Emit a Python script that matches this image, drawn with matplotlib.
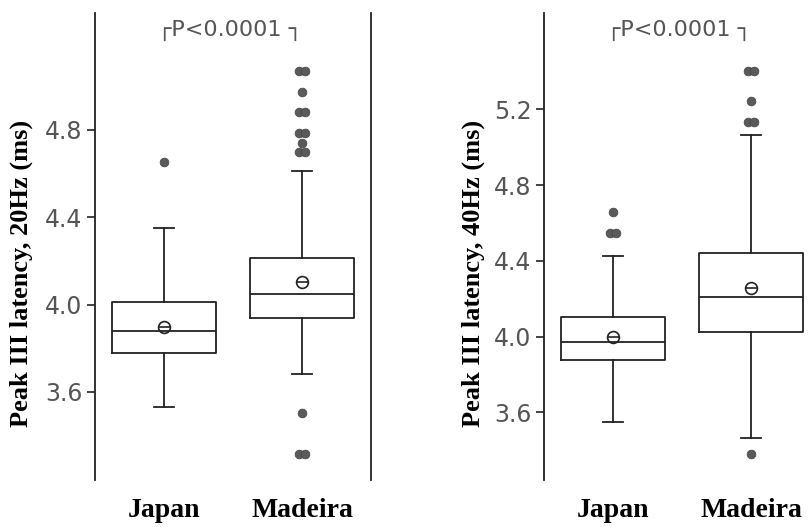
import matplotlib
matplotlib.use("Agg")
import matplotlib.pyplot as plt
from matplotlib import font_manager

# ---------------- data ----------------
groups = ["Japan", "Madeira"]

# 20 Hz panel
j20_stats = dict(whislo=3.529, q1=3.777, med=3.881, q3=4.010, whishi=4.350, mean=3.896)
m20_stats = dict(whislo=3.681, q1=3.937, med=4.049, q3=4.214, whishi=4.614, mean=4.105)
j20_fliers = [4.652]
m20_fliers = [5.07, 5.07, 4.974, 4.882, 4.882, 4.788, 4.788, 4.742, 4.70, 4.70,
              3.501, 3.315, 3.315]

# 40 Hz panel
j40_stats = dict(whislo=3.547, q1=3.877, med=3.974, q3=4.106, whishi=4.426, mean=4.000)
m40_stats = dict(whislo=3.463, q1=4.026, med=4.210, q3=4.441, whishi=5.064, mean=4.255)
j40_fliers = [4.656, 4.548, 4.548]
m40_fliers = [5.402, 5.402, 5.244, 5.135, 5.135, 3.38]

yticks20 = [3.6, 4.0, 4.4, 4.8]
yticks40 = [3.6, 4.0, 4.4, 4.8, 5.2]
ylabel20 = "Peak III latency, 20Hz (ms)"
ylabel40 = "Peak III latency, 40Hz (ms)"
ptext = "┌P<0.0001 ┐"

# ---------------- fonts ----------------
avail = {f.name for f in font_manager.fontManager.ttflist}
tick_family = ["Liberation Sans Narrow"] if "Liberation Sans Narrow" in avail else ["DejaVu Sans"]
serif_family = ["Liberation Serif", "DejaVu Serif"]

W, H = 811, 527
fig = plt.figure(figsize=(W / 100, H / 100), dpi=100)
fig.patch.set_facecolor("white")

LINE = "#222222"
DOT = "#5a5a5a"


def draw_panel(ax_rect, stats_list, fliers_list, ylim, yticks, ylabel, label_x, right_spine):
    ax = fig.add_axes(ax_rect)
    bstats = []
    for name, st in zip(groups, stats_list):
        d = dict(st)
        d["fliers"] = []
        d["label"] = name
        bstats.append(d)
    ax.bxp(bstats, positions=[1, 2], widths=0.75, capwidths=0.14,
           showmeans=False, showfliers=False,
           boxprops=dict(color=LINE, linewidth=1.3),
           whiskerprops=dict(color=LINE, linewidth=1.3),
           capprops=dict(color=LINE, linewidth=1.3),
           medianprops=dict(color=LINE, linewidth=1.3))
    # means: open circle with a horizontal bar
    for pos, st in zip([1, 2], stats_list):
        ax.plot([pos], [st["mean"]], marker="o", ms=8.5, mfc="none", mec=LINE, mew=1.2)
        ax.plot([pos], [st["mean"]], marker="_", ms=8.5, mec=LINE, mew=1.2)
    # outliers; repeated values drawn side by side
    for pos, fl in zip([1, 2], fliers_list):
        counts = {}
        for v in fl:
            counts[v] = counts.get(v, 0) + 1
        for v, c in counts.items():
            if c == 1:
                xs = [pos]
            else:
                xs = [pos - 0.025, pos + 0.025]
            ax.scatter(xs, [v] * len(xs), s=40, color=DOT, edgecolors="#444444",
                       linewidths=0.5, zorder=3)
    ax.set_xlim(0.5, 2.5)
    ax.set_ylim(*ylim)
    ax.set_yticks(yticks)
    ax.set_yticklabels([f"{t:.1f}" for t in yticks], family=tick_family,
                       fontsize=17, color="#555555")
    ax.tick_params(axis="y", direction="out", length=6, width=1.2, pad=3, color=LINE)
    ax.set_xticks([1, 2])
    ax.set_xticklabels(groups, family=serif_family, fontweight="bold", fontsize=20)
    ax.tick_params(axis="x", length=0, pad=13)
    ax.spines["top"].set_visible(False)
    ax.spines["bottom"].set_visible(False)
    ax.spines["right"].set_visible(right_spine)
    for s in ["left", "right"]:
        ax.spines[s].set_linewidth(1.3)
        ax.spines[s].set_color(LINE)
    ax.set_ylabel(ylabel, family=serif_family, fontweight="bold", fontsize=19)
    ax.yaxis.set_label_coords(label_x, 0.443)
    ax.text(0.49, 0.963, ptext, transform=ax.transAxes, ha="center", va="center",
            fontsize=16, color="#555555", family=["DejaVu Sans"])
    return ax


axw = 276 / W
bottom = 1 - 480 / H
height = (480 - 13) / H

draw_panel([95 / W, bottom, axw, height], [j20_stats, m20_stats], [j20_fliers, m20_fliers],
           (3.196, 5.336), yticks20, ylabel20, -0.225, True)
draw_panel([544 / W, bottom, axw, height], [j40_stats, m40_stats], [j40_fliers, m40_fliers],
           (3.243, 5.708), yticks40, ylabel40, -0.214, False)

fig.savefig("out.png", dpi=100, facecolor="white")
